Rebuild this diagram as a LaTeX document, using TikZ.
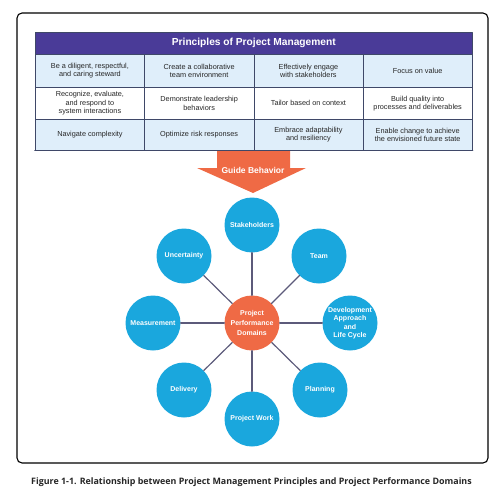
\documentclass[tikz,border=0pt]{standalone}
\usepackage{fontspec}
\setmainfont{Liberation Sans}
\newfontfamily\captionfont{Open Sans}
\usetikzlibrary{arrows.meta}

\definecolor{pmpurple}{HTML}{4A3B98}
\definecolor{pmline}{HTML}{3F4868}
\definecolor{pmrow}{HTML}{DFEEFA}
\definecolor{pmblue}{HTML}{1AA7DD}
\definecolor{pmorange}{HTML}{EF6A45}
\definecolor{pmlink}{HTML}{5C5A7A}

\begin{document}
\begin{tikzpicture}[
			x=1pt, y=-1pt,
			every node/.style={font=\fontsize{7.3}{8.3}\selectfont, text=black!85, align=center},
			cell/.style={draw=pmline, rectangle, anchor=north west, minimum width=109.25pt, inner sep=2pt, line width=0.6pt},
			domainball/.style={circle, fill=pmblue, minimum size=55pt, inner sep=0pt, text=white, font=\fontsize{7}{8.4}\selectfont\bfseries},
			link/.style={draw=pmlink, line width=1.2pt},
			line cap=round,
			line join=round
			]
			\useasboundingbox (0,0) rectangle (499,498);
			\draw[line width=1.1pt, rounded corners=5pt] (17,13) rectangle (488,463);
			
			% principles table
			\node[cell, fill=pmpurple, minimum width=437pt, minimum height=22pt, text=white, font=\fontsize{10.2}{11}\selectfont\bfseries] (head) at (35,32) {Principles of Project Management};
			
			\node[cell, fill=pmrow, minimum height=33pt] (p1) at (35,54) {Be a diligent, respectful,\\and caring steward};
			\node[cell, fill=pmrow, minimum height=33pt] (p2) at (144.25,54) {Create a collaborative\\team environment};
			\node[cell, fill=pmrow, minimum height=33pt] (p3) at (253.5,54) {Effectively engage\\with stakeholders};
			\node[cell, fill=pmrow, minimum height=33pt] (p4) at (362.75,54) {Focus on value};
			
			\node[cell, fill=white, minimum height=32pt] (p5) at (35,87) {Recognize, evaluate,\\and respond to\\system interactions};
			\node[cell, fill=white, minimum height=32pt] (p6) at (144.25,87) {Demonstrate leadership\\behaviors};
			\node[cell, fill=white, minimum height=32pt] (p7) at (253.5,87) {Tailor based on context};
			\node[cell, fill=white, minimum height=32pt] (p8) at (362.75,87) {Build quality into\\processes and deliverables};
			
			\node[cell, fill=pmrow, minimum height=31pt] (p9) at (35,119) {Navigate complexity};
			\node[cell, fill=pmrow, minimum height=31pt] (p10) at (144.25,119) {Optimize risk responses};
			\node[cell, fill=pmrow, minimum height=31pt] (p11) at (253.5,119) {Embrace adaptability\\and resiliency};
			\node[cell, fill=pmrow, minimum height=31pt] (p12) at (362.75,119) {Enable change to achieve\\the envisioned future state};
			\draw[pmline, line width=1.6pt] (p9.south west) -- (p12.south east);
			
			% guide behavior arrow
			\fill[pmorange] (217,151) -- (290,151) -- (290,168) -- (306,168) -- (253,193) -- (197,168) -- (217,168) -- cycle;
			\node[text=white, font=\fontsize{8.5}{9}\selectfont\bfseries] (guide) at (253,170) {Guide Behavior};
			
			% performance domains
			\node[domainball, fill=pmorange, font=\fontsize{7}{9.6}\selectfont\bfseries] (pd) at (252,323) {Project\\Performance\\Domains};
			\node[domainball] (d1) at (252,225) {Stakeholders};
			\node[domainball] (d2) at (319,256) {Team};
			\node[domainball] (d3) at (350,323) {Development\\Approach\\and\\Life Cycle};
			\node[domainball] (d4) at (320,390) {Planning};
			\node[domainball] (d5) at (252,419) {Project Work};
			\node[domainball] (d6) at (184,390) {Delivery};
			\node[domainball] (d7) at (153,323) {Measurement};
			\node[domainball] (d8) at (184,256) {Uncertainty};
			
			\draw[link] (pd) -- (d1);
			\draw[link] (pd) -- (d2);
			\draw[link] (pd) -- (d3);
			\draw[link] (pd) -- (d4);
			\draw[link] (pd) -- (d5);
			\draw[link] (pd) -- (d6);
			\draw[link] (pd) -- (d7);
			\draw[link] (pd) -- (d8);
			
			\node[font=\captionfont\bfseries\fontsize{8.9}{10}\selectfont, text=black!85] (caption) at (251.5,482) {Figure 1-1. Relationship between Project Management Principles and Project Performance Domains};
		\end{tikzpicture}
\end{document}
